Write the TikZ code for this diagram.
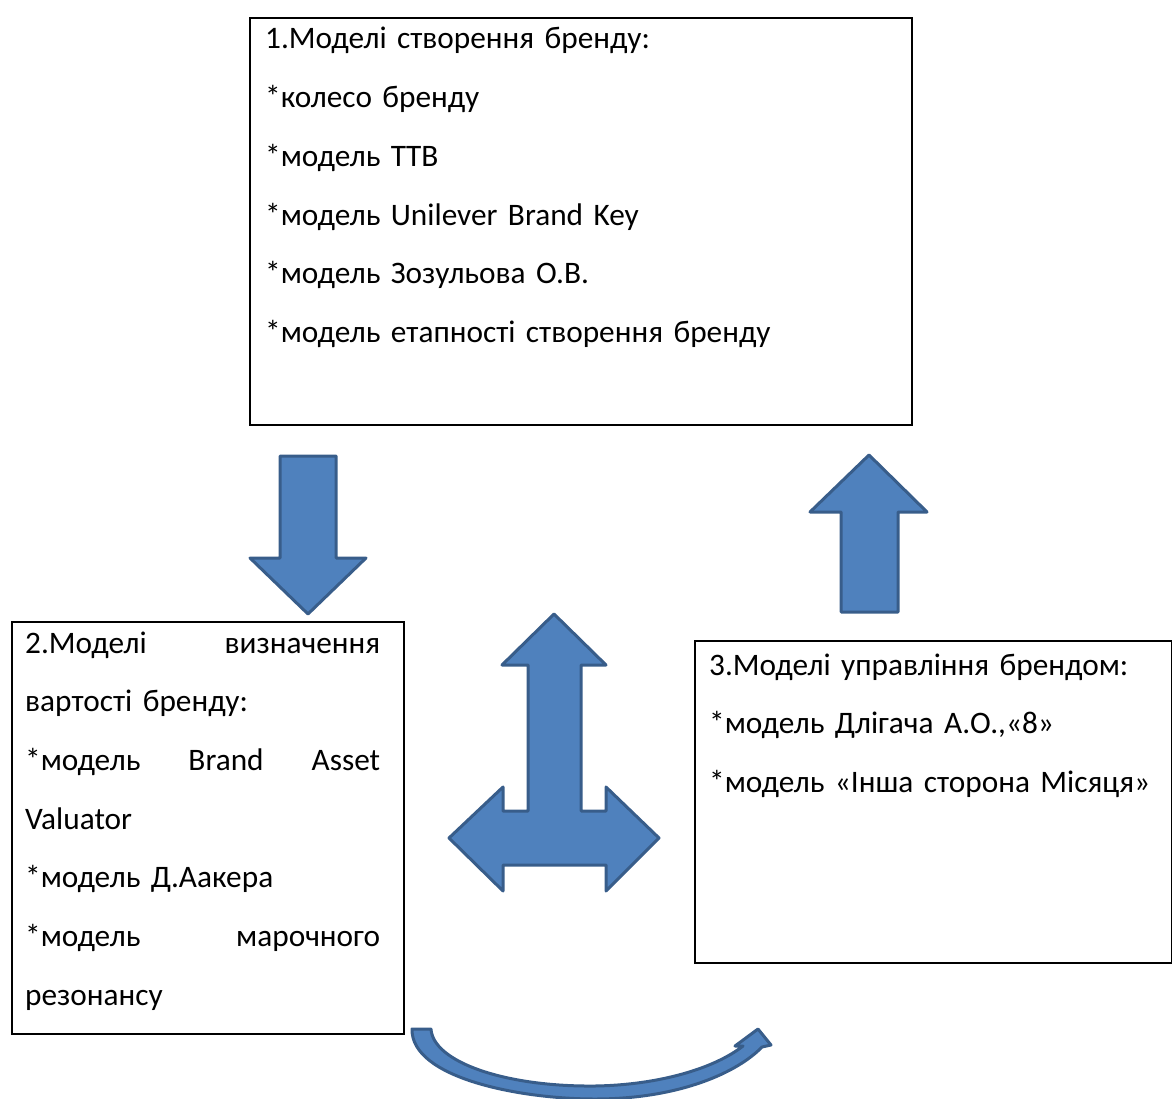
\documentclass[tikz,border=0pt]{standalone}
\usepackage{fontspec}
\setmainfont{Carlito}

\definecolor{arrowfill}{HTML}{4F81BD}
\definecolor{arrowline}{HTML}{385D8A}

\tikzset{
  box/.style = {draw, line width = 2pt, inner sep = 0pt, anchor = north west},
  boxtext/.style = {anchor = base west, inner sep = 0pt, align = left,
    text width = #1, font = \fontsize{31.3}{58.7}\selectfont},
  blockarrow/.style = {fill = arrowfill, draw = arrowline,
    line width = 3pt, line join = round}
}

\begin{document}
\begin{tikzpicture}[x = 1pt, y = -1pt]
  \useasboundingbox (0, 0) rectangle (1172, 1099);

  % boxes
  \node[box, minimum width = 662pt, minimum height = 407pt] (creation) at (249, 17) {};
  \node[box, minimum width = 392pt, minimum height = 412pt] (value) at (11, 621) {};
  \node[box, minimum width = 477pt, minimum height = 322pt] (manage) at (694, 640) {};

  \node[boxtext = 640pt] (creationtext) at (265, 49) {%
    1.Моделі створення бренду:\\
    {*}колесо бренду\\
    {*}модель ТТВ\\
    {*}модель Unilever Brand Key\\
    {*}модель Зозульова О.В.\\
    {*}модель етапності створення бренду};

  \node[boxtext = 355pt] (valuetext) at (25, 653) {%
    2.Моделі\hfill визначення\\
    вартості бренду:\\
    {*}модель\hfill Brand\hfill Asset\\
    Valuator\\
    {*}модель Д.Аакера\\
    {*}модель\hfill марочного\\
    резонансу};

  \node[boxtext = 460pt] (managetext) at (709, 675) {%
    3.Моделі управління брендом:\\
    {*}модель Длігача А.О.,«8»\\
    {*}модель «Інша сторона Місяця»};

  % down arrow
  \draw[blockarrow]
    (280, 456) -- (336, 456) -- (336, 558) -- (366, 558)
    -- (308, 614) -- (250, 558) -- (280, 558) -- cycle;

  % up arrow
  \draw[blockarrow]
    (869, 455) -- (927, 512) -- (898, 512) -- (898, 612)
    -- (841, 612) -- (841, 512) -- (810, 512) -- cycle;

  % three-way arrow
  \draw[blockarrow]
    (554, 614) -- (606, 665) -- (581, 665) -- (581, 811)
    -- (606, 811) -- (606, 787) -- (659, 838) -- (606, 891)
    -- (606, 865) -- (503, 865) -- (503, 891) -- (449, 838)
    -- (503, 787) -- (503, 811) -- (528, 811) -- (528, 665)
    -- (502, 665) -- cycle;

  % curved arrow
  \draw[blockarrow]
    (412, 1029) .. controls (411, 1078) and (520, 1099) .. (595, 1099)
    .. controls (680, 1099) and (738, 1072) .. (762, 1047)
    -- (771, 1045) -- (758, 1029) -- (735, 1046) -- (743, 1046)
    .. controls (715, 1068) and (660, 1085) .. (595, 1086)
    .. controls (505, 1087) and (433, 1062) .. (431, 1029) -- cycle;
\end{tikzpicture}
\end{document}
